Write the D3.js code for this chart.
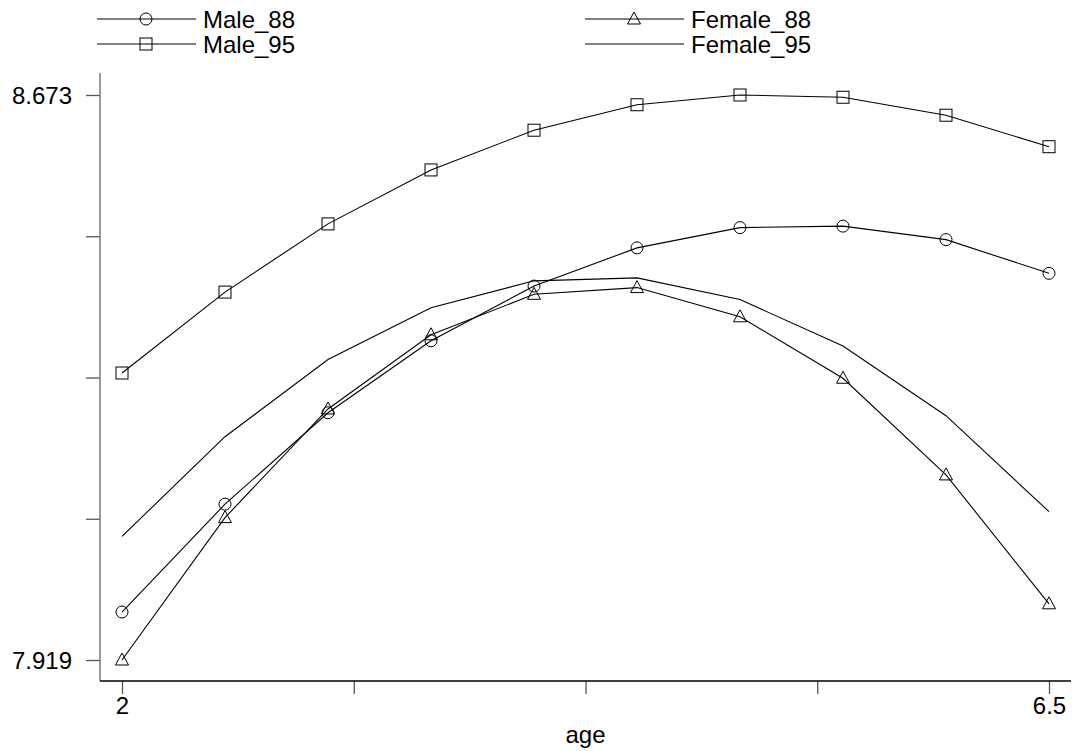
<!DOCTYPE html>
<html>
<head>
<meta charset="utf-8">
<script src="https://cdn.jsdelivr.net/npm/d3@7"></script>
<style>
  body { margin: 0; background: #fff; }
  svg { font-family: "Liberation Sans", Arial, sans-serif; }
</style>
</head>
<body>
<svg id="vis" width="1074" height="751"></svg>
<script>
// values (age vs. log outcome)
const ages = [2, 2.5, 3, 3.5, 4, 4.5, 5, 5.5, 6, 6.5];
const male88 = [7.983, 8.127, 8.249, 8.345, 8.418, 8.469, 8.496, 8.498, 8.480, 8.435];
const female88 = [7.919, 8.109, 8.254, 8.353, 8.407, 8.416, 8.377, 8.295, 8.166, 7.994];
const male95 = [8.302, 8.410, 8.501, 8.573, 8.626, 8.660, 8.673, 8.670, 8.646, 8.604];
const female95 = [8.084, 8.217, 8.320, 8.389, 8.425, 8.429, 8.400, 8.338, 8.245, 8.117];
const xTicks = [2, 3.125, 4.25, 5.375, 6.5];
const xLabels = ["2", "", "", "", "6.5"];
const yTicks = [7.919, 8.1075, 8.296, 8.4845, 8.673];
const yLabels = ["7.919", "", "", "", "8.673"];

const series = [
    {name: "Male_88", values: male88, symbol: "circle"},
    {name: "Female_88", values: female88, symbol: "triangle"},
    {name: "Male_95", values: male95, symbol: "square"},
    {name: "Female_95", values: female95, symbol: "none"}
];

const svg = d3.select('#vis');
const FONT = 24;

const x = d3.scaleLinear().domain([2, 6.5]).range([122, 1049]);
const y = d3.scaleLinear().domain([7.919, 8.673]).range([660, 95]);

const axisLeftX = 100, axisBottomY = 681;

// axes
const xAxis = d3.axisBottom(x)
    .tickValues(xTicks)
    .tickSize(13)
    .tickPadding(3)
    .tickFormat(function (d, i) { return xLabels[i]; });

const yAxis = d3.axisLeft(y)
    .tickValues(yTicks)
    .tickSize(14)
    .tickPadding(14)
    .tickFormat(function (d, i) { return yLabels[i]; });

const gx = svg.append("g")
    .attr("transform", "translate(0," + axisBottomY + ")")
    .call(xAxis);
const gy = svg.append("g")
    .attr("transform", "translate(" + axisLeftX + ",0)")
    .call(yAxis);

[gx, gy].forEach(function (g) {
    g.select(".domain").remove();
    g.selectAll(".tick line").attr("stroke", "#555").attr("stroke-width", 1.3);
    g.selectAll(".tick text")
        .attr("fill", "#000")
        .style("font-size", FONT + "px")
        .style("font-family", "Liberation Sans, Arial, sans-serif");
});
gy.selectAll(".tick text").attr("dy", "0.36em");

// axis lines
svg.append("line")
    .attr("x1", axisLeftX).attr("x2", axisLeftX)
    .attr("y1", 73).attr("y2", axisBottomY)
    .attr("stroke", "#777").attr("stroke-width", 1.5);
svg.append("line")
    .attr("x1", axisLeftX).attr("x2", 1071)
    .attr("y1", axisBottomY).attr("y2", axisBottomY)
    .attr("stroke", "#000").attr("stroke-width", 1.5);

svg.append("text")
    .attr("x", x(4.25))
    .attr("y", 743)
    .attr("text-anchor", "middle")
    .style("font-size", FONT + "px")
    .text("age");

const line = d3.line()
    .x(function (d) { return x(d[0]); })
    .y(function (d) { return y(d[1]); });

function drawMarker(g, symbol, cx, cy) {
    if (symbol === "circle") {
        g.append("circle").attr("cx", cx).attr("cy", cy).attr("r", 6)
            .attr("fill", "none").attr("stroke", "#000").attr("stroke-width", 1);
    } else if (symbol === "square") {
        g.append("rect").attr("x", cx - 6).attr("y", cy - 6)
            .attr("width", 12).attr("height", 12)
            .attr("fill", "none").attr("stroke", "#000").attr("stroke-width", 1);
    } else if (symbol === "triangle") {
        g.append("path")
            .attr("d", "M" + cx + "," + (cy - 7) + "L" + (cx + 6.5) + "," + (cy + 5) + "L" + (cx - 6.5) + "," + (cy + 5) + "Z")
            .attr("fill", "none").attr("stroke", "#000").attr("stroke-width", 1);
    }
}

// lines and markers
series.forEach(function (s) {
    const pts = ages.map(function (a, i) { return [a, s.values[i]]; });
    const g = svg.append("g").attr("class", "series");
    g.append("path")
        .datum(pts)
        .attr("d", line)
        .attr("fill", "none")
        .attr("stroke", "#000")
        .attr("stroke-width", 1.1);
    pts.forEach(function (p) {
        drawMarker(g, s.symbol, x(p[0]), y(p[1]));
    });
});

// legend, two columns
const legendPos = [[97, 19], [585, 19], [97, 44], [585, 44]];
series.forEach(function (s, i) {
    const lx = legendPos[i][0], ly = legendPos[i][1];
    const g = svg.append("g").attr("class", "legend");
    g.append("line")
        .attr("x1", lx).attr("x2", lx + 99)
        .attr("y1", ly).attr("y2", ly)
        .attr("stroke", "#000").attr("stroke-width", 1);
    drawMarker(g, s.symbol, lx + 49, ly);
    g.append("text")
        .attr("x", lx + 106)
        .attr("y", ly)
        .attr("dy", "0.36em")
        .style("font-size", FONT + "px")
        .text(s.name);
});
</script>
</body>
</html>
